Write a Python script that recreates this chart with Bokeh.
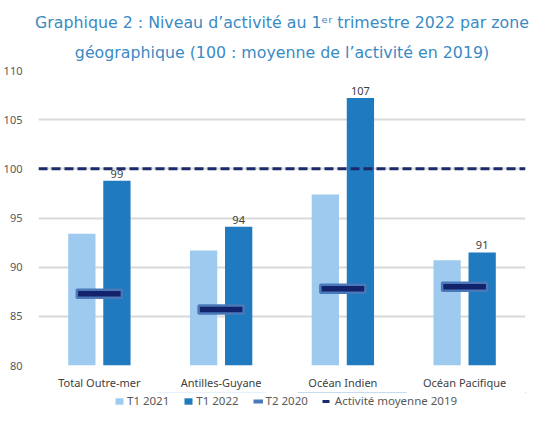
from bokeh.plotting import figure
from bokeh.models import (ColumnDataSource, Legend, LegendItem,
                          Title, FixedTicker)
from bokeh.layouts import column
from bokeh.core.properties import value
from bokeh.embed import file_html
from bokeh.resources import INLINE

# ---- data ----
zones = ["Total Outre-mer", "Antilles-Guyane", "Océan Indien", "Océan Pacifique"]
t1_2021 = [93.4, 91.7, 97.4, 90.7]
t1_2022 = [98.8, 94.1, 107.2, 91.5]
t2_2020 = [87.3, 85.7, 87.8, 88.0]
labels_2022 = ["99", "94", "107", "91"]
moyenne_2019 = 100
y_ticks = [80, 85, 90, 95, 100, 105, 110]
series_names = ["T1 2021", "T1 2022", "T2 2020", "Activité moyenne 2019"]

FONT = "Noto Sans"
TFONT = "DejaVu Sans"
C21, C22, C20, C20E, C19 = "#9DCAEE", "#1F7ABF", "#13236B", "#4A78B8", "#1B2A6B"

n = len(zones)
centers = [i + 0.5 for i in range(n)]
OFF = 0.144
src = ColumnDataSource(dict(
    xc=centers,
    x21=[c - OFF for c in centers],
    x22=[c + OFF for c in centers],
    t21=t1_2021, t22=t1_2022, t20=t2_2020, lab=labels_2022,
    avg=[moyenne_2019] * n))

p = figure(x_range=(0, n), y_range=(80, 110),
           width=529, height=392, output_backend="svg", toolbar_location=None,
           min_border_left=32, min_border_right=4, min_border_top=70,
           min_border_bottom=20)
p.outline_line_color = None
p.background_fill_color = "white"
p.border_fill_color = "white"
p.title.visible = False

t2 = Title(text="géographique (100 : moyenne de l’activité en 2019)", align="center",
           text_font=TFONT, text_font_size="15.8px", text_font_style="normal",
           text_color="#3A8AC4", standoff=18, offset=-7)
t1 = Title(text="Graphique 2 : Niveau d’activité au 1ᵉʳ trimestre 2022 par zone",
           align="center", text_font=TFONT, text_font_size="15.8px",
           text_font_style="normal", text_color="#3A8AC4", standoff=0, offset=-7)
p.add_layout(t2, "above")
p.add_layout(t1, "above")

# axes / grid
p.yaxis.ticker = FixedTicker(ticks=y_ticks)
p.yaxis.axis_line_color = None
p.yaxis.major_tick_line_color = None
p.yaxis.minor_tick_line_color = None
p.yaxis.major_label_text_font = FONT
p.yaxis.major_label_text_font_size = "11px"
p.yaxis.major_label_text_color = "#595959"
p.yaxis.major_label_standoff = 10
p.ygrid.grid_line_color = "#d9d9d9"
p.ygrid.grid_line_width = 2
p.xgrid.grid_line_color = None
p.xaxis.ticker = FixedTicker(ticks=centers)
p.xaxis.major_label_overrides = {c: z for c, z in zip(centers, zones)}
p.xaxis.axis_line_color = None
p.xaxis.major_tick_line_color = None
p.xaxis.minor_tick_line_color = None
p.xaxis.major_label_text_font = FONT
p.xaxis.major_label_text_font_size = "11px"
p.xaxis.major_label_text_color = "#404040"
p.xaxis.major_label_standoff = 3

# bars
p.vbar(x="x21", top="t21", bottom=80, width=0.224, source=src,
       fill_color=C21, line_color=None)
p.vbar(x="x22", top="t22", bottom=80, width=0.224, source=src,
       fill_color=C22, line_color=None)

# average 2019 dashed line across the whole frame
p.line(x=[0, n], y=[moyenne_2019, moyenne_2019], line_color=C19,
       line_width=3, line_dash="9 4")

# T2 2020 markers
p.rect(x="xc", y="t20", width=0.37, height=8, height_units="screen",
       source=src, fill_color=C20, line_color=C20E, line_width=2.5)

# data labels
p.text(x="x22", y="t22", text="lab", source=src,
       text_font=value(FONT), text_font_size="11px", text_color="#404040",
       text_align="center", text_baseline="bottom", y_offset=-3)

# ---- legend strip (separate small figure below; its glyphs fall outside
#      its own ranges, only the legend is visible) ----
lg = figure(width=529, height=16, x_range=(0, 1), y_range=(0, 1),
            output_backend="svg", toolbar_location=None,
            x_axis_location=None, y_axis_location=None,
            min_border_left=0, min_border_right=0, min_border_top=0,
            min_border_bottom=0)
lg.outline_line_color = None
lg.grid.grid_line_color = None
lg.title.visible = False
l21 = lg.vbar(x="x21", top="t21", bottom=80, width=0.224, source=src,
              fill_color=C21, line_color=None)
l22 = lg.vbar(x="x22", top="t22", bottom=80, width=0.224, source=src,
              fill_color=C22, line_color=None)
l20 = lg.line(x="xc", y="t20", source=src, line_color=C20E, line_width=4)
l19 = lg.line(x="xc", y="avg", source=src, line_color=C19, line_width=3,
              line_dash="7 3")
legend = Legend(items=[LegendItem(label=s, renderers=[r]) for s, r in
                       zip(series_names, [l21, l22, l20, l19])],
                orientation="horizontal", location=(76, 0),
                label_text_font=FONT, label_text_font_size="11.5px",
                label_text_color="#595959", glyph_width=10, glyph_height=8,
                label_standoff=3, spacing=14, padding=0, margin=0,
                border_line_color=None, background_fill_alpha=0)
lg.add_layout(legend, "center")

open("out.html", "w").write(file_html(column(p, lg, spacing=0), INLINE))
